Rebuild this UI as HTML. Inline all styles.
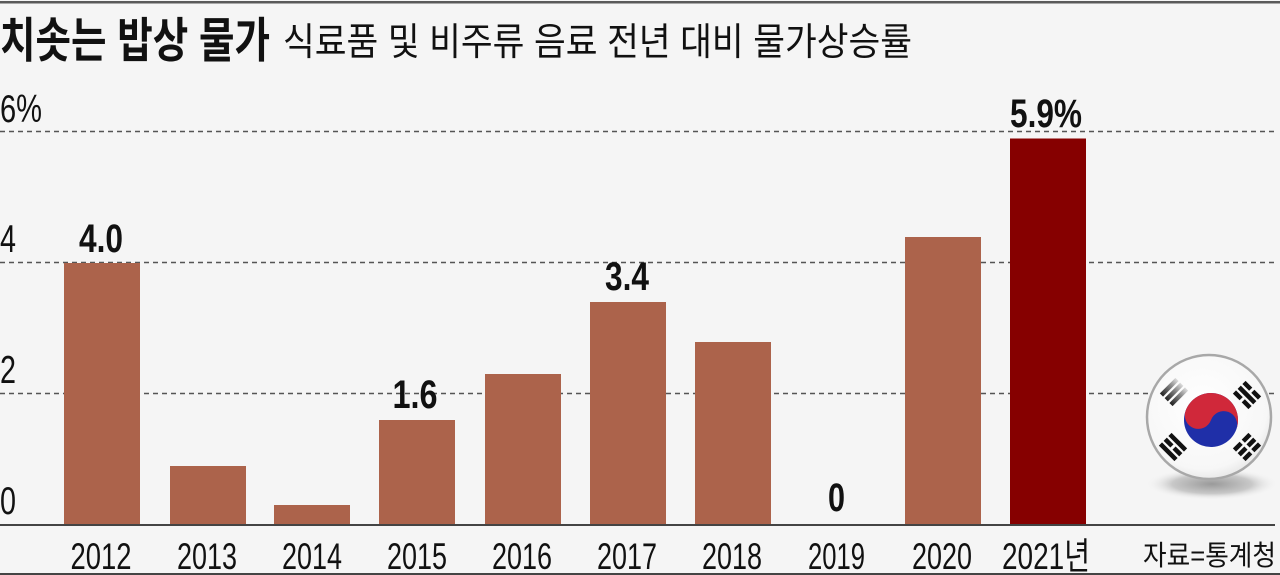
<!DOCTYPE html>
<html>
<head>
<meta charset="utf-8">
<style>
  html,body{margin:0;padding:0;background:#f5f5f5;}
  svg{display:block;}
  .t{font-family:"Liberation Sans","Noto Sans CJK KR",sans-serif;fill:#111;}
</style>
</head>
<body>
<svg width="1280" height="575" viewBox="0 0 1280 575" xmlns="http://www.w3.org/2000/svg">
  <defs>
    <radialGradient id="fg" cx="0.45" cy="0.4" r="0.65">
      <stop offset="0" stop-color="#ffffff"/>
      <stop offset="0.8" stop-color="#f7f7f7"/>
      <stop offset="1" stop-color="#e2e2e2"/>
    </radialGradient>
    <radialGradient id="sh" cx="0.5" cy="0.5" r="0.5">
      <stop offset="0" stop-color="#9a9a9a"/>
      <stop offset="0.6" stop-color="#c8c8c8"/>
      <stop offset="1" stop-color="#f5f5f5" stop-opacity="0"/>
    </radialGradient>
    <linearGradient id="gq" x1="0" y1="0" x2="1" y2="0">
      <stop offset="0" stop-color="#222"/>
      <stop offset="0.6" stop-color="#888"/>
      <stop offset="1" stop-color="#ddd"/>
    </linearGradient>
  </defs>
  <rect width="1280" height="575" fill="#f5f5f5"/>
  <!-- top rule -->
  <rect x="0" y="1" width="1280" height="2.5" fill="#5a5a5a"/>

  <!-- title -->
  <text class="t" x="0" y="57" font-size="48" font-weight="bold" textLength="270" lengthAdjust="spacingAndGlyphs">치솟는 밥상 물가</text>
  <text class="t" x="283" y="55" font-size="38" textLength="629" lengthAdjust="spacingAndGlyphs" fill="#1a1a1a">식료품 및 비주류 음료 전년 대비 물가상승률</text>

  <!-- gridlines -->
  <g stroke="#555" stroke-width="1.5" stroke-dasharray="5 4">
    <line x1="0" y1="131.5" x2="1276" y2="131.5"/>
    <line x1="0" y1="262.5" x2="1276" y2="262.5"/>
    <line x1="0" y1="393.5" x2="1276" y2="393.5"/>
  </g>

  <!-- y labels -->
  <text class="t" x="0" y="122" font-size="39" textLength="42" lengthAdjust="spacingAndGlyphs">6%</text>
  <text class="t" x="0" y="252" font-size="39" textLength="16" lengthAdjust="spacingAndGlyphs">4</text>
  <text class="t" x="0" y="383" font-size="39" textLength="16" lengthAdjust="spacingAndGlyphs">2</text>
  <text class="t" x="0" y="514" font-size="39" textLength="16" lengthAdjust="spacingAndGlyphs">0</text>

  <!-- bars -->
  <g fill="#ac634b">
    <rect x="64" y="263" width="76" height="262"/>
    <rect x="170" y="466" width="76" height="59"/>
    <rect x="274" y="505" width="76" height="20"/>
    <rect x="379" y="420" width="76" height="105"/>
    <rect x="485" y="374" width="76" height="151"/>
    <rect x="590" y="302" width="76" height="223"/>
    <rect x="695" y="342" width="76" height="183"/>
    <rect x="905" y="237" width="76" height="288"/>
  </g>
  <rect x="1010" y="138.5" width="76" height="386.5" fill="#860000"/>

  <!-- value labels -->
  <g class="t" font-weight="bold" font-size="40" text-anchor="middle">
    <text class="t" x="101" y="252" textLength="44" lengthAdjust="spacingAndGlyphs">4.0</text>
    <text class="t" x="415" y="408" textLength="45" lengthAdjust="spacingAndGlyphs">1.6</text>
    <text class="t" x="627" y="290" textLength="44" lengthAdjust="spacingAndGlyphs">3.4</text>
    <text class="t" x="836.5" y="511" textLength="17" lengthAdjust="spacingAndGlyphs">0</text>
    <text class="t" x="1046" y="127" textLength="72" lengthAdjust="spacingAndGlyphs">5.9%</text>
  </g>

  <!-- axis line -->
  <rect x="0" y="524" width="1275" height="2" fill="#444"/>

  <!-- year labels -->
  <g class="t" font-size="37" text-anchor="middle">
    <text class="t" x="101" y="569" textLength="61" lengthAdjust="spacingAndGlyphs">2012</text>
    <text class="t" x="207" y="569" textLength="60" lengthAdjust="spacingAndGlyphs">2013</text>
    <text class="t" x="312" y="569" textLength="60" lengthAdjust="spacingAndGlyphs">2014</text>
    <text class="t" x="417" y="569" textLength="60" lengthAdjust="spacingAndGlyphs">2015</text>
    <text class="t" x="522" y="569" textLength="60" lengthAdjust="spacingAndGlyphs">2016</text>
    <text class="t" x="627" y="569" textLength="60" lengthAdjust="spacingAndGlyphs">2017</text>
    <text class="t" x="732" y="569" textLength="60" lengthAdjust="spacingAndGlyphs">2018</text>
    <text class="t" x="836.5" y="569" textLength="57" lengthAdjust="spacingAndGlyphs">2019</text>
    <text class="t" x="942" y="569" textLength="60" lengthAdjust="spacingAndGlyphs">2020</text>
    <text class="t" x="1046" y="569" textLength="88" lengthAdjust="spacingAndGlyphs">2021년</text>
  </g>

  <!-- source -->
  <text class="t" x="1143" y="565" font-size="28" textLength="133" lengthAdjust="spacingAndGlyphs" fill="#222">자료=통계청</text>

  <!-- bottom rule -->
  <rect x="0" y="573" width="1280" height="2" fill="#444"/>

  <!-- flag -->
  <ellipse cx="1212" cy="484" rx="66" ry="16" fill="url(#sh)"/>
  <circle cx="1209" cy="417" r="62" fill="url(#fg)" stroke="#a8a8a8" stroke-width="2.5"/>
  <g transform="translate(1211,420) rotate(20)">
    <circle r="27" fill="#1f2fa8"/>
    <path d="M -27 0 A 27 27 0 0 1 27 0 A 13.5 13.5 0 0 0 0 0 A 13.5 13.5 0 0 1 -27 0 Z" fill="#d0283a"/>
  </g>
  <!-- upper-left: geon (3 solid) -->
  <g transform="translate(1174,392) rotate(-45)" fill="url(#gq)">
    <rect x="-11" y="-9" width="22" height="4.5"/>
    <rect x="-11" y="-2.25" width="22" height="4.5"/>
    <rect x="-11" y="4.5" width="22" height="4.5"/>
  </g>
  <!-- upper-right: gam -->
  <g transform="translate(1247,395) rotate(45)" fill="#111">
    <rect x="-11" y="-9" width="9.5" height="4.5"/><rect x="1.5" y="-9" width="9.5" height="4.5"/>
    <rect x="-11" y="-2.25" width="22" height="4.5"/>
    <rect x="-11" y="4.5" width="9.5" height="4.5"/><rect x="1.5" y="4.5" width="9.5" height="4.5"/>
  </g>
  <!-- lower-left: ri -->
  <g transform="translate(1173,447) rotate(45)" fill="#111">
    <rect x="-11" y="-9" width="22" height="4.5"/>
    <rect x="-11" y="-2.25" width="9.5" height="4.5"/><rect x="1.5" y="-2.25" width="9.5" height="4.5"/>
    <rect x="-11" y="4.5" width="22" height="4.5"/>
  </g>
  <!-- lower-right: gon -->
  <g transform="translate(1247,447) rotate(-45)" fill="#111">
    <rect x="-11" y="-9" width="9.5" height="4.5"/><rect x="1.5" y="-9" width="9.5" height="4.5"/>
    <rect x="-11" y="-2.25" width="9.5" height="4.5"/><rect x="1.5" y="-2.25" width="9.5" height="4.5"/>
    <rect x="-11" y="4.5" width="9.5" height="4.5"/><rect x="1.5" y="4.5" width="9.5" height="4.5"/>
  </g>
</svg>
</body>
</html>
